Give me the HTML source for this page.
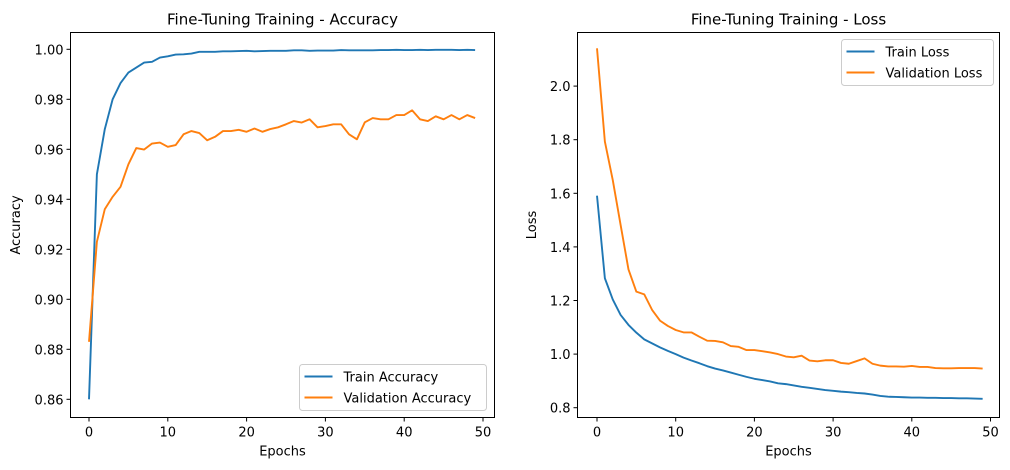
<!DOCTYPE html>
<html><head><meta charset="utf-8">
<style>
body{margin:0;background:#fff;}
svg{display:block;font-family:"DejaVu Sans","Liberation Sans",sans-serif;}
</style></head>
<body>
<svg id="c" width="1010" height="470" viewBox="0 0 1010 470"></svg>
<script>
const epochs = Array.from({length:50},(_,i)=>i);
const trainAcc = [0.86,0.95,0.968,0.98,0.9865,0.9907,0.9927,0.9947,0.995,0.9967,0.9972,0.9979,0.998,0.9983,0.999,0.999,0.999,0.9992,0.9992,0.9993,0.9994,0.9992,0.9993,0.9994,0.9994,0.9994,0.9996,0.9996,0.9994,0.9995,0.9995,0.9995,0.9997,0.9996,0.9996,0.9996,0.9996,0.9997,0.9997,0.9998,0.9997,0.9997,0.9998,0.9997,0.9998,0.9998,0.9998,0.9997,0.9998,0.9997];
const valAcc = [0.883,0.923,0.936,0.941,0.945,0.954,0.9605,0.9599,0.9623,0.9627,0.961,0.9617,0.966,0.9673,0.9665,0.9636,0.965,0.9673,0.9673,0.9678,0.967,0.9683,0.967,0.9681,0.9688,0.970,0.9713,0.9707,0.972,0.9688,0.9693,0.970,0.970,0.966,0.964,0.9708,0.9725,0.972,0.972,0.9737,0.9737,0.9756,0.972,0.9713,0.9732,0.972,0.9737,0.972,0.9737,0.9725];
const trainLoss = [1.591,1.283,1.204,1.146,1.109,1.08,1.055,1.04,1.025,1.012,1.0,0.987,0.976,0.966,0.955,0.946,0.939,0.931,0.923,0.915,0.908,0.903,0.898,0.891,0.888,0.883,0.878,0.874,0.87,0.866,0.863,0.86,0.858,0.855,0.853,0.849,0.844,0.841,0.84,0.839,0.838,0.838,0.837,0.837,0.836,0.836,0.835,0.835,0.834,0.833];
const valLoss = [2.141,1.793,1.65,1.482,1.316,1.233,1.223,1.165,1.125,1.105,1.09,1.081,1.081,1.065,1.05,1.049,1.044,1.03,1.027,1.015,1.015,1.011,1.006,1.0,0.991,0.988,0.994,0.976,0.973,0.977,0.977,0.967,0.964,0.974,0.984,0.964,0.957,0.954,0.954,0.953,0.956,0.952,0.952,0.948,0.947,0.947,0.948,0.948,0.948,0.946];
const xTicks = [0,10,20,30,40,50];
const accTicks = [0.86,0.88,0.90,0.92,0.94,0.96,0.98,1.00];
const lossTicks = [0.8,1.0,1.2,1.4,1.6,1.8,2.0];

const svg = document.getElementById('c');
const NS = 'http://www.w3.org/2000/svg';
function mk(tag, attrs, parent){const e=document.createElementNS(NS,tag);for(const k in attrs)e.setAttribute(k,attrs[k]);(parent||svg).appendChild(e);return e;}

function panel(o){
  const g = mk('g',{});
  
  
  const X = v => o.x0 + (v - 0) * o.xs;
  const Y = v => o.yRef - (v - o.vRef) * o.ys;
  const fr = mk('rect',{x:o.L,y:o.T,width:o.R-o.L,height:o.B-o.T,fill:'none',stroke:'#000','stroke-width':1},g);
  
  
  xTicks.forEach(t=>{
    const x=X(t);
    mk('line',{x1:x,x2:x,y1:o.B,y2:o.B+4,stroke:'#000'},g);
    const tx=mk('text',{x:x,y:o.B+19,'font-size':13,'text-anchor':'middle',fill:'#000'},g);
    tx.textContent=t;
    
    
  });
  o.yTicks.forEach(t=>{
    const y=Y(t);
    mk('line',{x1:o.L-4,x2:o.L,y1:y,y2:y,stroke:'#000'},g);
    const tx=mk('text',{x:o.L-7,y:y+5,'font-size':13,'text-anchor':'end',fill:'#000'},g);
    tx.textContent=t.toFixed(o.dec);
    
    
  });
  const tt=mk('text',{x:(o.L+o.R)/2,y:o.T-8,'font-size':15,'text-anchor':'middle'},g);
  tt.textContent=o.title;
  
  
  const xl=mk('text',{x:(o.L+o.R)/2,y:o.B+38,'font-size':13,'text-anchor':'middle'},g);
  xl.textContent='Epochs';
  
  
  const yl=mk('text',{x:o.ylx,y:(o.T+o.B)/2,'font-size':13,'text-anchor':'middle',transform:`rotate(-90 ${o.ylx} ${(o.T+o.B)/2})`},g);
  yl.textContent=o.ylabel;
  
  
  o.series.forEach(s=>{
    const p=mk('polyline',{points:s.data.map((v,i)=>X(epochs[i]).toFixed(2)+','+Y(v).toFixed(2)).join(' '),fill:'none',stroke:s.color,'stroke-width':1.9,'stroke-linejoin':'round'},g);
    
    
  });
  const lg=mk('g',{},g);
  
  
  mk('rect',{x:o.lx,y:o.ly,width:o.lw,height:46,rx:3,fill:'#fff','fill-opacity':0.8,stroke:'#ccc'},lg);
  o.series.forEach((s,i)=>{
    const yy=o.ly+12+i*21;
    mk('line',{x1:o.lx+5,x2:o.lx+33,y1:yy,y2:yy,stroke:s.color,'stroke-width':1.9},lg);
    const t=mk('text',{x:o.lx+44,y:yy+5,'font-size':13},lg);
    t.textContent=s.label;
    
    
  });
}
panel({name:'accuracy-chart',L:70.5,R:494.5,T:32.5,B:417.5,x0:89,xs:7.88,yRef:49.3,vRef:1.0,ys:2500,
  yTicks:accTicks,dec:2,title:'Fine-Tuning Training - Accuracy',ylabel:'Accuracy',ylx:20,
  series:[{id:'train-accuracy-line',data:trainAcc,color:'#1f77b4',label:'Train Accuracy'},{id:'validation-accuracy-line',data:valAcc,color:'#ff7f0e',label:'Validation Accuracy'}],
  lx:299.5,ly:364.5,lw:187});
panel({name:'loss-chart',L:577.5,R:999.5,T:32.5,B:417.5,x0:597,xs:7.87,yRef:407.7,vRef:0.8,ys:268,
  yTicks:lossTicks,dec:1,title:'Fine-Tuning Training - Loss',ylabel:'Loss',ylx:536,
  series:[{id:'train-loss-line',data:trainLoss,color:'#1f77b4',label:'Train Loss'},{id:'validation-loss-line',data:valLoss,color:'#ff7f0e',label:'Validation Loss'}],
  lx:841.5,ly:39.5,lw:152});
</script>
</body></html>
